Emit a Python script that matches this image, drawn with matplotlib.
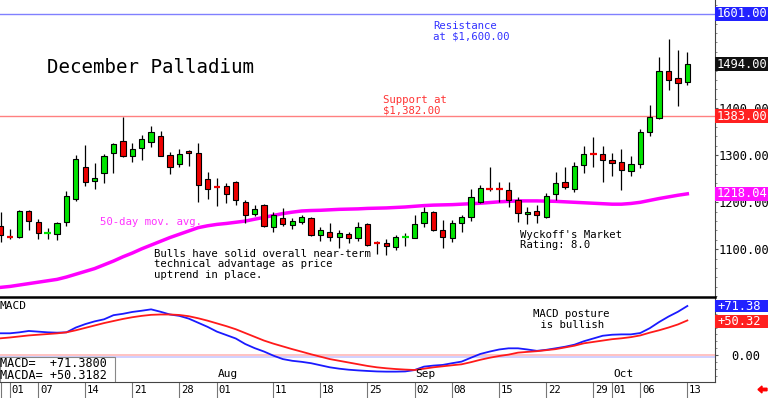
import numpy as np
import matplotlib
matplotlib.use("Agg")
import matplotlib.pyplot as plt
import matplotlib.transforms as mtransforms
from matplotlib.patches import Rectangle
from matplotlib.ticker import MultipleLocator

plt.rcParams['font.family'] = ['DejaVu Sans Mono', 'DejaVu Sans']

# daily bars, 30 Jun .. 13 Oct
opens = [1150, 1128, 1126, 1182, 1158, 1133, 1132, 1159, 1206, 1276,
         1245, 1262, 1304, 1331, 1299, 1315, 1329, 1341, 1300, 1282,
         1310, 1304, 1249, 1234, 1235, 1244, 1201, 1175, 1194, 1148,
         1166, 1152, 1159, 1166, 1130, 1137, 1126, 1133, 1125, 1153,
         1115, 1114, 1104, 1126, 1125, 1157, 1180, 1141, 1125, 1157,
         1169, 1201, 1229, 1229, 1226, 1205, 1175, 1182, 1169, 1217,
         1244, 1228, 1279, 1304, 1302, 1290, 1285, 1267, 1281, 1350,
         1379, 1479, 1464, 1455]
highs = [1180, 1143, 1184, 1184, 1164, 1145, 1158, 1224, 1301, 1322,
         1283, 1302, 1327, 1381, 1327, 1343, 1362, 1352, 1308, 1313,
         1312, 1327, 1265, 1251, 1242, 1246, 1204, 1194, 1196, 1180,
         1187, 1166, 1173, 1169, 1148, 1155, 1141, 1136, 1159, 1155,
         1118, 1121, 1130, 1134, 1173, 1189, 1182, 1162, 1162, 1173,
         1228, 1237, 1276, 1244, 1244, 1212, 1189, 1194, 1220, 1265,
         1275, 1286, 1320, 1338, 1320, 1304, 1313, 1298, 1356, 1407,
         1510, 1547, 1523, 1520]
lows = [1115, 1122, 1124, 1141, 1121, 1122, 1120, 1150, 1203, 1235,
        1228, 1240, 1262, 1297, 1286, 1290, 1318, 1298, 1260, 1276,
        1278, 1200, 1208, 1192, 1198, 1194, 1155, 1171, 1148, 1136,
        1150, 1144, 1154, 1129, 1118, 1118, 1102, 1114, 1118, 1108,
        1091, 1088, 1099, 1106, 1123, 1148, 1138, 1102, 1116, 1137,
        1161, 1199, 1225, 1200, 1191, 1159, 1154, 1157, 1166, 1205,
        1228, 1222, 1262, 1276, 1244, 1255, 1226, 1255, 1274, 1340,
        1377, 1439, 1405, 1450]
closes = [1130, 1126, 1181, 1160, 1134, 1135, 1155, 1213, 1293, 1244,
          1251, 1299, 1324, 1299, 1313, 1334, 1349, 1299, 1275, 1302,
          1304, 1237, 1228, 1232, 1217, 1205, 1173, 1186, 1150, 1173,
          1154, 1161, 1169, 1130, 1142, 1126, 1134, 1125, 1147, 1109,
          1113, 1106, 1127, 1128, 1154, 1180, 1140, 1127, 1155, 1168,
          1211, 1230, 1227, 1227, 1205, 1178, 1180, 1173, 1213, 1240,
          1232, 1277, 1302, 1302, 1290, 1283, 1269, 1281, 1349, 1381,
          1479, 1460, 1453, 1494]
ma50 = [1019, 1021, 1024, 1027, 1030, 1033, 1036, 1041, 1047, 1053,
        1059, 1067, 1075, 1084, 1092, 1101, 1109, 1117, 1125, 1132,
        1139, 1146, 1150, 1153, 1155, 1157.5, 1160, 1164, 1168, 1172,
        1176, 1179, 1181.5, 1182.5, 1183, 1184, 1185, 1185.5, 1186, 1187,
        1187.5, 1188, 1189, 1190, 1191.5, 1193, 1194, 1194.5, 1195, 1196,
        1197, 1198, 1199.5, 1201, 1202, 1203, 1203, 1203, 1202.5, 1202,
        1201, 1200, 1199, 1198, 1197, 1196, 1196, 1197.5, 1200, 1204,
        1208, 1211.5, 1215, 1218]
macd = [31.6, 31.6, 33, 35, 34, 33, 32.5, 33, 40, 45,
        49, 52, 58, 60, 62.7, 64.5, 66.5, 63, 59, 57,
        53, 47, 41, 34, 29, 24, 16, 10, 5, -1,
        -6, -8.5, -10, -12, -15, -18, -20, -21.5, -22.5, -23.3,
        -24, -24.3, -24.3, -24, -22, -17, -15.5, -14.5, -12, -9.7,
        -4, 1.5, 5, 8, 9.7, 9.7, 8, 6, 7.5, 9.7,
        12, 15, 20, 24, 28, 29.5, 30, 30, 32, 39,
        48, 56, 63, 71.38]
macda = [24.3, 25.5, 27, 28.5, 29.5, 30.5, 31.5, 33, 36, 39.5,
         43, 46.5, 49.5, 52.5, 55, 57, 58.5, 59, 59, 58.3,
         56.5, 53.5, 50, 46, 42, 37.5, 32, 26.5, 21, 16.5,
         12.5, 8.5, 4.8, 1, -2.5, -6, -8.5, -11, -13.5, -16,
         -18, -19.4, -20.5, -21.3, -21.9, -20, -18, -16.5, -15, -13.6,
         -10.5, -7, -4, -1.5, 0.5, 3.4, 4.5, 5.5, 7, 8.5,
         11, 13.5, 17, 19, 21, 23, 24.3, 26, 28.5, 32.5,
         36, 40, 44.5, 50.32]

tick_pos = [0, 1, 4, 9, 14, 19, 23, 29, 34, 39, 44, 48, 53, 58, 63, 65, 68, 73]
tick_lab = ["", "01", "07", "14", "21", "28", "01", "11", "18", "25",
            "02", "08", "15", "22", "29", "01", "06", "13"]
months = [(23, "Aug"), (44, "Sep"), (65, "Oct")]

support = 1383.0
resistance = 1601.0

W, H = 768, 398
GREEN = '#00e400'
RED = '#ee0000'


def fbox(x0, y0, x1, y1):
    return [x0 / W, 1 - y1 / H, (x1 - x0) / W, (y1 - y0) / H]


def ftext(x, y, s, **kw):
    # x, y in pixels from top-left, y is the baseline of the first line
    fig.text(x / W, 1 - y / H, s, va='baseline', ha='left', **kw)


fig = plt.figure(figsize=(W / 100, H / 100), dpi=100)
ax = fig.add_axes(fbox(0, 0, 715, 297))
axm = fig.add_axes(fbox(0, 297, 715, 382), sharex=ax)

idx = np.arange(len(closes))

# candles
for i in idx:
    o, h, l, c = opens[i], highs[i], lows[i], closes[i]
    col = GREEN if c >= o else RED
    ax.vlines(i, l, h, color='black', lw=0.9, zorder=3)
    if abs(c - o) < 3:
        ax.hlines((o + c) / 2, i - 0.36, i + 0.36, color=col, lw=1.6, zorder=4)
    else:
        ax.add_patch(Rectangle((i - 0.28, min(o, c)), 0.56, abs(c - o),
                               facecolor=col, edgecolor='black', lw=0.8, zorder=4))

ax.plot(idx, ma50, color='#ff00ff', lw=2.5, zorder=2)
ax.axhline(resistance, color='#8080ff', lw=1, zorder=1)
ax.axhline(support, color='#ff8080', lw=1, zorder=1)

ax.set_xlim(-0.064, 75.94)
ax.set_ylim(998.5, 1630.4)
ax.yaxis.tick_right()
ax.set_yticks([1100, 1200, 1300, 1400])
ax.set_yticklabels(["%.2f" % v for v in [1100, 1200, 1300, 1400]])
ax.yaxis.set_minor_locator(MultipleLocator(20))
ax.tick_params(axis='y', which='major', direction='out', length=2, pad=0.5,
               labelsize=8.7, color='#555555')
ax.tick_params(axis='y', which='minor', direction='out', length=1.5, color='#777777')
ax.tick_params(axis='x', bottom=False, labelbottom=False)
for s in ['left', 'top', 'bottom']:
    ax.spines[s].set_visible(False)
ax.spines['right'].set_color('#444444')


def right_box(a, y, half, text, fc):
    tr = mtransforms.blended_transform_factory(a.transAxes, a.transData)
    a.add_patch(Rectangle((1.0, y - half), 53 / 715, 2 * half, transform=tr,
                          facecolor=fc, edgecolor='none', clip_on=False, zorder=6))
    a.text(1.0 + 2 / 715, y, text, transform=tr, color='white', fontsize=8.7,
           va='center', ha='left', zorder=7, clip_on=False)


right_box(ax, resistance, 15, "%.2f" % resistance, '#2222ff')
right_box(ax, closes[-1], 15, "%.2f" % closes[-1], '#111111')
right_box(ax, support, 15, "%.2f" % support, '#ff2020')
right_box(ax, 1218.04, 15, "1218.04", '#ff10ff')

# MACD panel
axm.axhline(0, color='#ffb8b8', lw=1.2, zorder=1)
axm.axhline(-3.5, color='#c8c8ff', lw=1.2, zorder=1)
axm.plot(idx, macd, color='#1a1aff', lw=1.3, zorder=3)
axm.plot(idx, macda, color='#ff1a1a', lw=1.3, zorder=3)
axm.set_ylim(-39.4, 84.5)
axm.yaxis.tick_right()
axm.set_yticks([0])
axm.set_yticklabels(["0.00"])
axm.yaxis.set_minor_locator(MultipleLocator(10))
axm.tick_params(axis='y', which='major', direction='out', length=2, pad=10,
                labelsize=8.7, color='#555555')
axm.tick_params(axis='y', which='minor', direction='out', length=1.5, color='#777777')
axm.spines['left'].set_visible(False)
axm.spines['top'].set_color('black')
axm.spines['top'].set_linewidth(1.8)
axm.spines['right'].set_color('#444444')
axm.spines['bottom'].set_color('#444444')

right_box(axm, macd[-1], 9, "%+.2f" % macd[-1], '#2222ff')
right_box(axm, macda[-1] - 1.5, 9, "%+.2f" % macda[-1], '#ff2020')

axm.set_xticks(tick_pos)
axm.set_xticklabels([""] * len(tick_pos))
axm.tick_params(axis='x', direction='out', length=11.5, color='#777777', width=0.8)
trx = mtransforms.blended_transform_factory(axm.transData, axm.transAxes)
for t, lab in zip(tick_pos, tick_lab):
    axm.text(t + 0.18, -0.095, lab, transform=trx, fontsize=7.6,
             va='center', ha='left', clip_on=False)
for t, lab in months:
    axm.text(t + 0.12, 0.03, lab, transform=trx, fontsize=8,
             va='bottom', ha='left')

# legend box of MACD values
axm.add_patch(Rectangle((0, 0), 115 / 715, 25 / 85, transform=axm.transAxes,
                        facecolor='white', edgecolor='#888888', lw=0.8, zorder=5))
ftext(0, 309, "MACD", fontsize=8)
ftext(0, 367, "MACD=  +71.3800", fontsize=8.5, zorder=6)
ftext(0, 379, "MACDA= +50.3182", fontsize=8.5, zorder=6)

# annotations
ftext(47, 73.3, "December Palladium", fontsize=13.8)
ftext(433, 29.3, "Resistance", fontsize=7.7, color='#3333ff')
ftext(433, 39.3, "at $1,600.00", fontsize=7.7, color='#3333ff')
ftext(383, 103.3, "Support at", fontsize=7.7, color='#ff3333')
ftext(383, 113.3, "$1,382.00", fontsize=7.7, color='#ff3333')
ftext(100, 225, "50-day mov. avg.", fontsize=7.7, color='#ff33ff')
ftext(154, 256.7, "Bulls have solid overall near-term", fontsize=7.7)
ftext(154, 267.2, "technical advantage as price", fontsize=7.7)
ftext(154, 277.7, "uptrend in place.", fontsize=7.7)
ftext(520, 237.7, "Wyckoff's Market", fontsize=7.7)
ftext(520, 248.3, "Rating: 8.0", fontsize=7.7)
ftext(533, 317.3, "MACD posture", fontsize=7.7)
ftext(534, 327.8, " is bullish", fontsize=7.7)

# small red arrow bottom right
fig.patches.append(matplotlib.patches.FancyArrow(
    767 / W, 1 - 389.5 / H, -9 / W, 0, width=2.5 / H, head_width=7 / H,
    head_length=4 / W, length_includes_head=True, color='red',
    transform=fig.transFigure, figure=fig))

fig.savefig("out.png", dpi=100)
